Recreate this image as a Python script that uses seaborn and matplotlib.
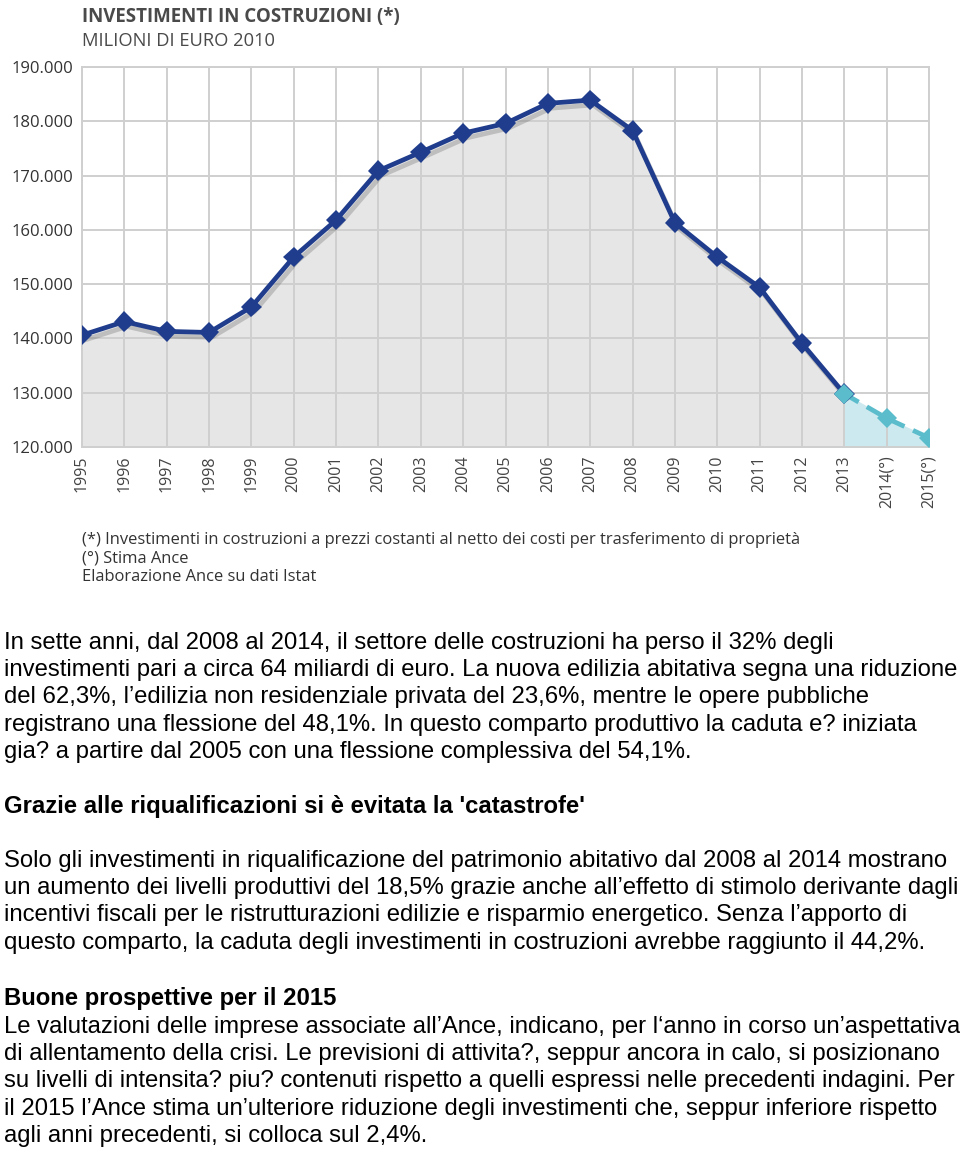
import pandas as pd
import seaborn as sns
import matplotlib.pyplot as plt
import matplotlib.patheffects as pe

# Investimenti in costruzioni, milioni di euro 2010
anni = list(range(1995, 2016))
valori = [140600, 143100, 141300, 141100, 145800, 155000, 161800, 170900, 174300,
          177800, 179600, 183300, 183900, 178300, 161300, 155000, 149400, 139100,
          129800, 125300, 121700]
etichette_x = [str(a) for a in range(1995, 2014)] + ['2014(°)', '2015(°)']
tick_y = list(range(120000, 190001, 10000))

note = ['(*) Investimenti in costruzioni a prezzi costanti al netto dei costi per trasferimento di proprietà',
        '(°) Stima Ance',
        'Elaborazione Ance su dati Istat']

par1 = ['In sette anni, dal 2008 al 2014, il settore delle costruzioni ha perso il 32% degli',
        'investimenti pari a circa 64 miliardi di euro. La nuova edilizia abitativa segna una riduzione',
        'del 62,3%, l\u2019edilizia non residenziale privata del 23,6%, mentre le opere pubbliche',
        'registrano una flessione del 48,1%. In questo comparto produttivo la caduta e? iniziata',
        'gia? a partire dal 2005 con una flessione complessiva del 54,1%.']
titolo2 = "Grazie alle riqualificazioni si è evitata la 'catastrofe'"
par2 = ['Solo gli investimenti in riqualificazione del patrimonio abitativo dal 2008 al 2014 mostrano',
        'un aumento dei livelli produttivi del 18,5% grazie anche all\u2019effetto di stimolo derivante dagli',
        'incentivi fiscali per le ristrutturazioni edilizie e risparmio energetico. Senza l\u2019apporto di',
        'questo comparto, la caduta degli investimenti in costruzioni avrebbe raggiunto il 44,2%.']
titolo3 = 'Buone prospettive per il 2015'
par3 = ['Le valutazioni delle imprese associate all\u2019Ance, indicano, per l\u2018anno in corso un\u2019aspettativa',
        'di allentamento della crisi. Le previsioni di attivita?, seppur ancora in calo, si posizionano',
        'su livelli di intensita? piu? contenuti rispetto a quelli espressi nelle precedenti indagini. Per',
        'il 2015 l\u2019Ance stima un\u2019ulteriore riduzione degli investimenti che, seppur inferiore rispetto',
        'agli anni precedenti, si colloca sul 2,4%.']

df = pd.DataFrame({'anno': anni, 'valore': valori})
storico = df[df['anno'] <= 2013]
stima = df[df['anno'] >= 2013]

sns.set_style('white')
plt.rcParams['font.family'] = ['Open Sans', 'DejaVu Sans']

W, H = 960, 1151
fig = plt.figure(figsize=(W / 100, H / 100), dpi=100)
ax = fig.add_axes([82 / W, 1 - 447 / H, (929 - 82) / W, (447 - 67) / H])

blu = '#1f3d8c'
azzurro = '#5bbccb'

# aree sotto la curva
ax.fill_between(storico['anno'], storico['valore'], 0, color='#e6e6e6', zorder=1)
ax.fill_between(stima['anno'], stima['valore'], 0, color='#cbe9ef', zorder=1)

ombra = [pe.SimpleLineShadow(offset=(2, -3.5), shadow_color='#333333', alpha=0.22), pe.Normal()]
sns.lineplot(data=storico, x='anno', y='valore', ax=ax, color=blu, linewidth=3.4,
             marker='D', markersize=10.5, markeredgewidth=0, zorder=4, path_effects=ombra)
sns.lineplot(data=stima, x='anno', y='valore', ax=ax, color=azzurro, linewidth=3.4,
             linestyle=(0, (3.5, 2)), zorder=3)
ax.plot(stima['anno'], stima['valore'], linestyle='none', marker='D', markersize=10.5,
        markeredgewidth=0, color=azzurro, zorder=5)

ax.set_xlim(1995, 2015)
ax.set_ylim(120000, 190000)
ax.set_xticks(anni)
ax.set_xticklabels(etichette_x, rotation=90, fontsize=11.5, color='#444444')
ax.set_yticks(tick_y)
ax.set_yticklabels([f'{v / 1000:.3f}' for v in tick_y], fontsize=12, color='#333333')
ax.tick_params(length=0, pad=6)
ax.grid(True, color='#cfcfcf', linewidth=1.4, zorder=2)
ax.set_axisbelow(False)
for s in ax.spines.values():
    s.set_color('#cfcfcf')
    s.set_linewidth(1.4)
ax.set_xlabel('')
ax.set_ylabel('')

# titoli del grafico
fig.text(82 / W, 1 - 17 / H, 'INVESTIMENTI IN COSTRUZIONI (*)', fontsize=13.5,
         fontweight='bold', color='#4a4a4a', va='center')
fig.text(82 / W, 1 - 41 / H, 'MILIONI DI EURO 2010', fontsize=13.2, color='#4a4a4a', va='center')

for i, riga in enumerate(note):
    fig.text(82 / W, 1 - (540 + 18.5 * i) / H, riga, fontsize=11.9, color='#333333', va='center')

# testo dell'articolo
corpo = dict(fontsize=17.2, color='black', va='center', family=['Liberation Sans', 'DejaVu Sans'])
for i, riga in enumerate(par1):
    fig.text(4 / W, 1 - (643 + 27.2 * i) / H, riga, **corpo)
fig.text(4 / W, 1 - 806 / H, titolo2, fontweight='bold', **corpo)
for i, riga in enumerate(par2):
    fig.text(4 / W, 1 - (861 + 27.2 * i) / H, riga, **corpo)
fig.text(4 / W, 1 - 999 / H, titolo3, fontweight='bold', **corpo)
for i, riga in enumerate(par3):
    fig.text(4 / W, 1 - (1027 + 27.2 * i) / H, riga, **corpo)

fig.savefig('out.png', dpi=100)
